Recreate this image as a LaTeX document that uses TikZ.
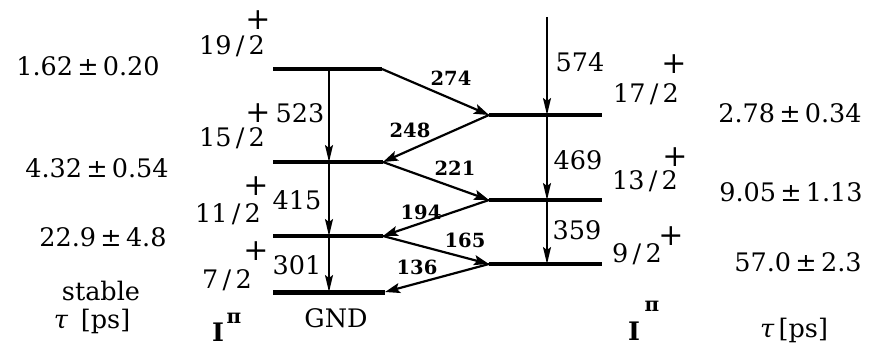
\documentclass[tikz,border=0pt]{standalone}
\usepackage{fontspec}
\setmainfont{DejaVu Serif}
\usetikzlibrary{arrows.meta}
\begin{document}
\begin{tikzpicture}[x=1pt,y=-1pt,
  lvl/.style={line width=3.5pt},
  gnd/.style={line width=5pt},
  diag/.style={line width=2.2pt,-{Stealth[length=15pt,width=10pt,inset=3pt]}},
  vert/.style={line width=1.6pt,-{Stealth[length=17pt,width=8pt,inset=3pt]}},
  txt/.style={inner sep=0pt,anchor=base,font=\fontsize{25.5}{28}\selectfont},
  sml/.style={inner sep=0pt,anchor=base,font=\fontsize{19.5}{22}\selectfont\bfseries},
  pl/.style={inner sep=0pt,font=\fontsize{30}{32}\selectfont}]
\useasboundingbox (0,0) rectangle (875,347);
% level coordinates
\coordinate (L19w) at (273,69);  \coordinate (L19m) at (329,69);  \coordinate (L19e) at (382,69);
\coordinate (L15w) at (273,162); \coordinate (L15m) at (329,162); \coordinate (L15e) at (383,162);
\coordinate (L11w) at (273,236); \coordinate (L11m) at (329,236); \coordinate (L11e) at (383,236);
\coordinate (L7w)  at (273,292); \coordinate (L7m)  at (329,292); \coordinate (L7e)  at (385,292);
\coordinate (Rtop) at (547,17);
\coordinate (R17w) at (489,115); \coordinate (R17m) at (547,115); \coordinate (R17e) at (602,115);
\coordinate (R13w) at (489,200); \coordinate (R13m) at (547,200); \coordinate (R13e) at (602,200);
\coordinate (R9w)  at (489,264); \coordinate (R9m)  at (547,264); \coordinate (R9e)  at (602,264);
% levels
\draw[lvl] (L19w) -- (L19e);
\draw[lvl] (L15w) -- (L15e);
\draw[lvl] (L11w) -- (L11e);
\draw[gnd] (L7w) -- (L7e);
\draw[lvl] (R17w) -- (R17e);
\draw[lvl] (R13w) -- (R13e);
\draw[lvl] (R9w) -- (R9e);
% vertical transitions
\draw[vert] (L19m) -- (L15m);
\draw[vert] (L15m) -- (L11m);
\draw[vert] (L11m) -- (L7m);
\draw[vert] (Rtop) -- (R17m);
\draw[vert] (R17m) -- (R13m);
\draw[vert] (R13m) -- (R9m);
% diagonal transitions
\draw[diag] (L19e) -- (R17w);
\draw[diag] (R17w) -- (L15e);
\draw[diag] (L15e) -- (R13w);
\draw[diag] (R13w) -- (L11e);
\draw[diag] (L11e) -- (R9w);
\draw[diag] (R9w) -- (L7e);
% transition labels
\node[txt] (e523) at (300,123) {523};
\node[txt] (e415) at (297,210) {415};
\node[txt] (e301) at (297,275) {301};
\node[txt] (e574) at (580,72) {574};
\node[txt] (e469) at (578,170) {469};
\node[txt] (e359) at (577,240) {359};
\node[sml] (e274) at (451,86) {274};
\node[sml] (e248) at (410,138) {248};
\node[sml] (e221) at (455,176) {221};
\node[sml] (e194) at (421,220) {194};
\node[sml] (e165) at (465,248) {165};
\node[sml] (e136) at (417,275) {136};
\node[txt] (gndl) at (336,327) {GND};
% spins left
\node[txt] (s19) at (232,55) {19\,/\,2};
\node[pl]  (p19) at (258,20) {+};
\node[txt] (s15) at (232,147) {15\,/\,2};
\node[pl]  (p15) at (258,113) {+};
\node[txt] (s11) at (228,223) {11\,/\,2};
\node[pl]  (p11) at (256,186) {+};
\node[txt] (s7)  at (227,288) {7\,/\,2};
\node[pl]  (p7)  at (256,251) {+};
% spins right
\node[txt] (s17) at (646,103) {17\,/\,2};
\node[pl]  (p17) at (674,64) {+};
\node[txt] (s13) at (645,190) {13\,/\,2};
\node[pl]  (p13) at (675,157) {+};
\node[txt] (s9)  at (637,263) {9\,/\,2};
\node[pl]  (p9)  at (671,236) {+};
% lifetimes left
\node[txt] (t19) at (88,76)  {1.62\,±\,0.20};
\node[txt] (t15) at (97,178) {4.32\,±\,0.54};
\node[txt] (t11) at (103,247) {22.9\,±\,4.8};
\node[txt] (t7)  at (101,301) {stable};
\node[txt] (tauL) at (92,328) {\textit{τ}\enspace[ps]};
% lifetimes right
\node[txt] (t17) at (790,123) {2.78\,±\,0.34};
\node[txt] (t13) at (791,202) {9.05\,±\,1.13};
\node[txt] (t9)  at (798,272) {57.0\,±\,2.3};
\node[txt] (tauR) at (794,337) {\textit{τ}\,[ps]};
% I^pi
\node[txt] (IL) at (218,341) {\textbf{I}};
\node[txt,font=\fontsize{20}{22}\selectfont\bfseries] (piL) at (234,323) {π};
\node[txt] (IR) at (634,340) {\textbf{I}};
\node[txt,font=\fontsize{20}{22}\selectfont\bfseries] (piR) at (652,312) {π};
\end{tikzpicture}
\end{document}
